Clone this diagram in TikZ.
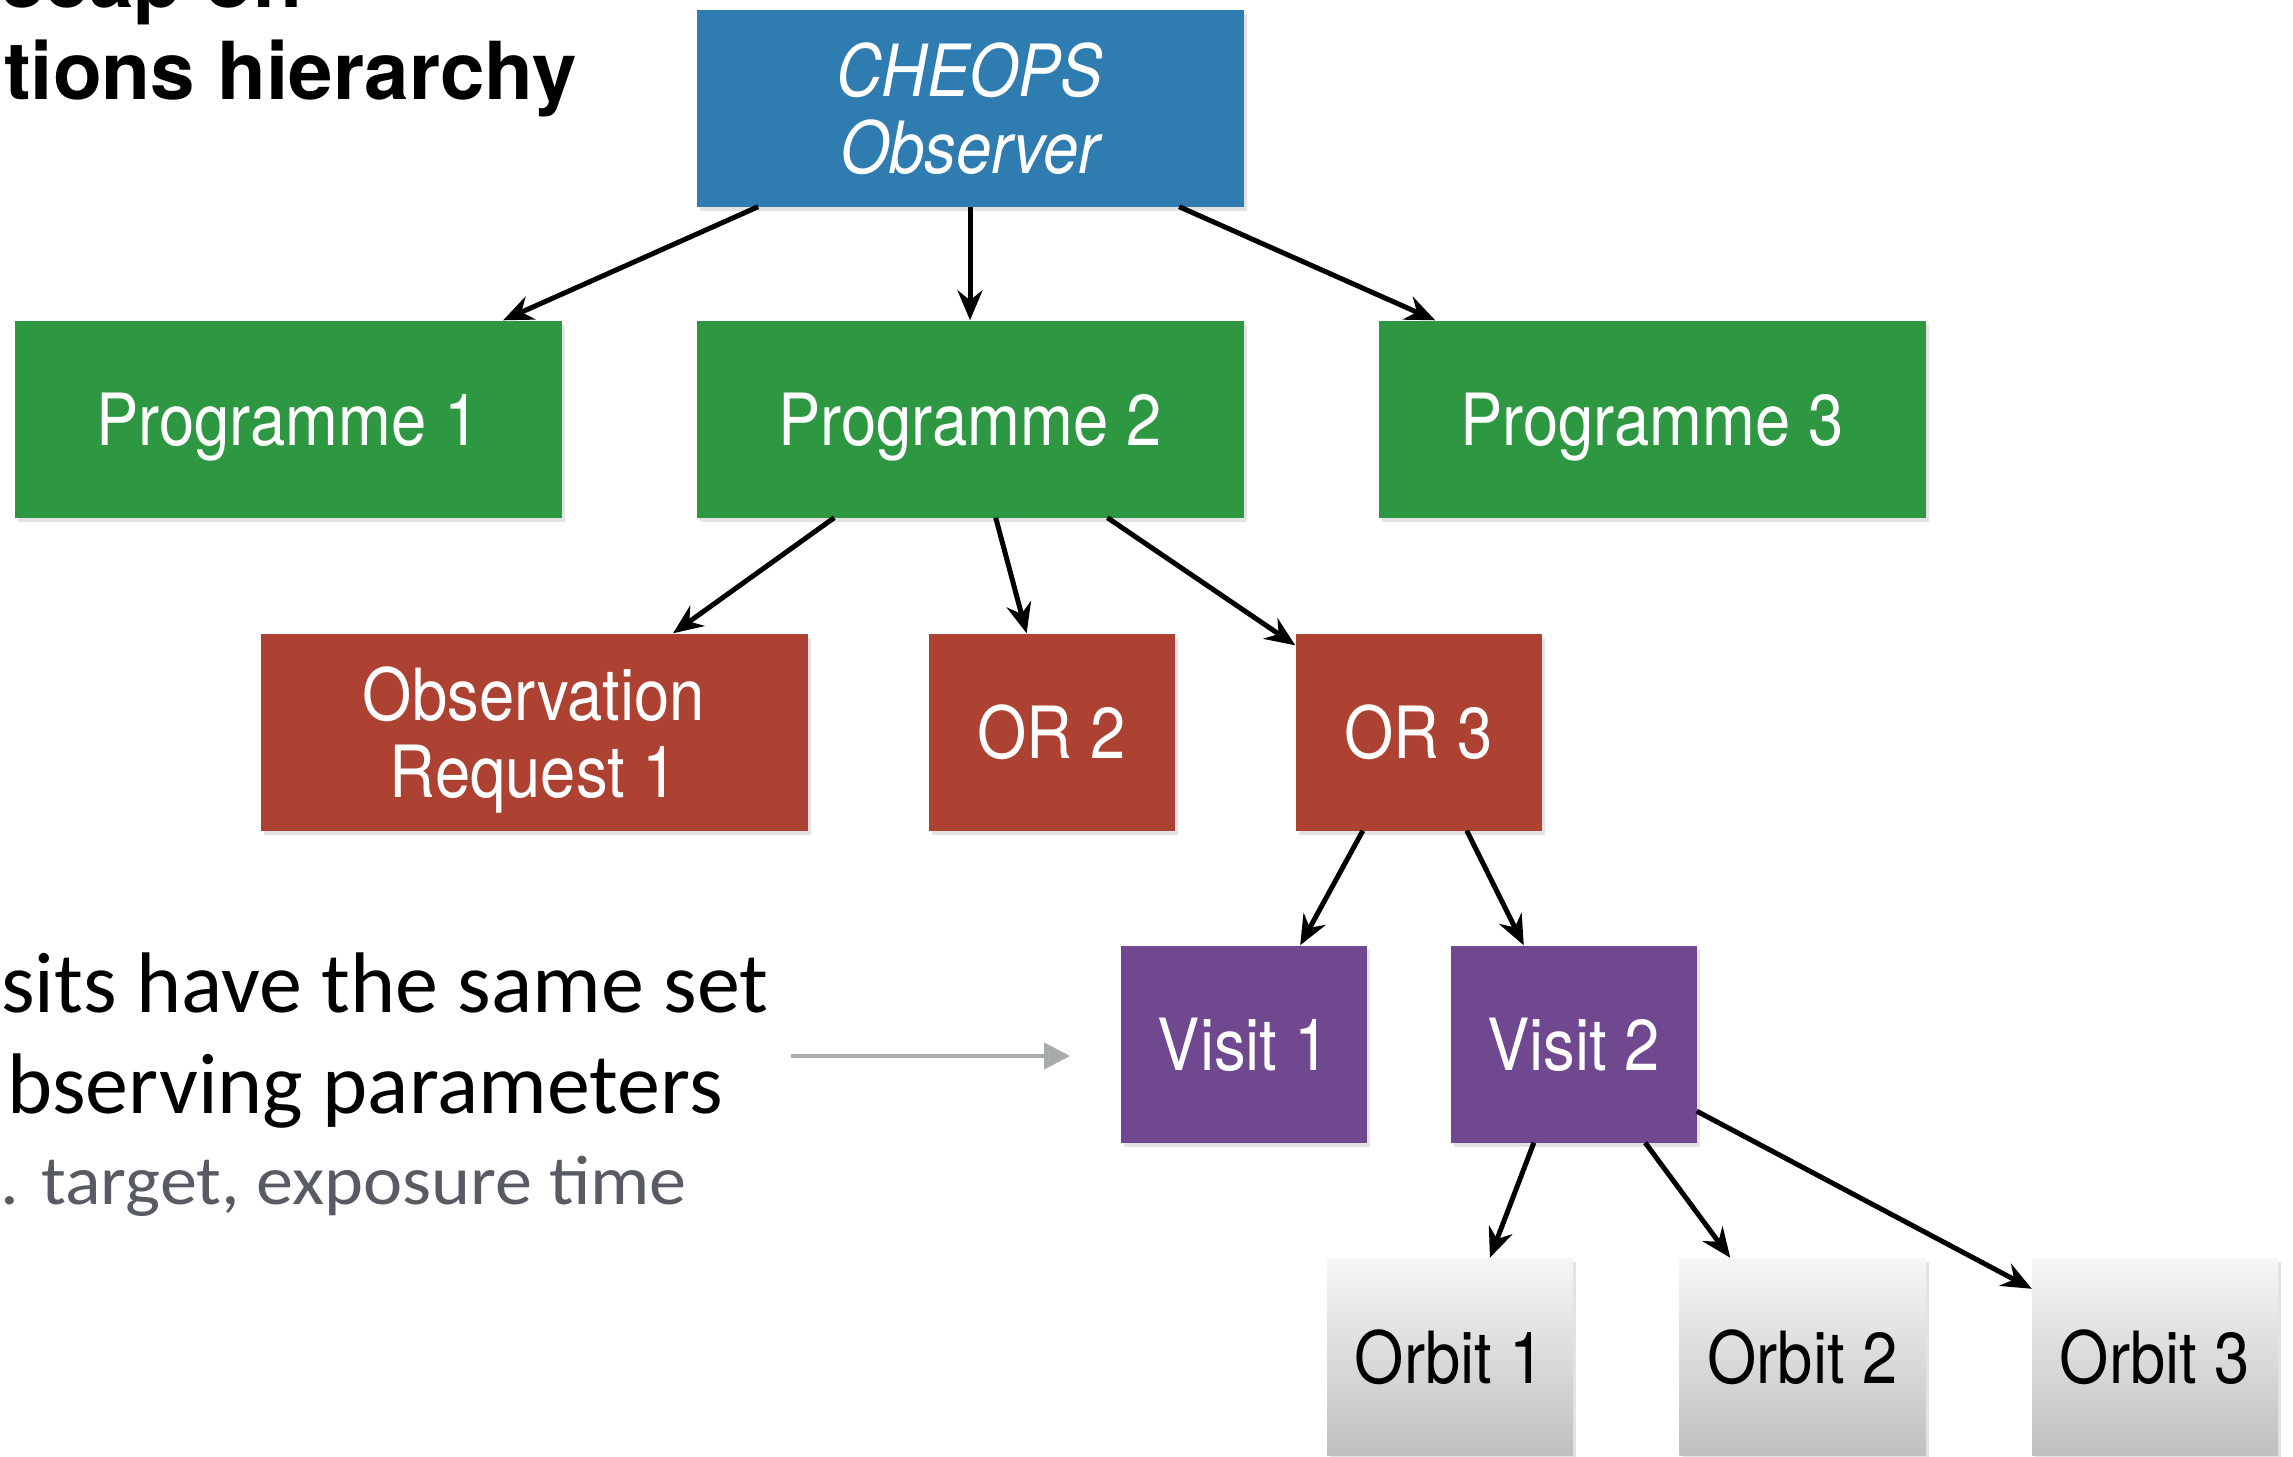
\documentclass[tikz,border=0pt]{standalone}
\usepackage{fontspec}
\setmainfont{TeX Gyre Heros}
\newfontfamily\boxfont[FakeStretch=0.88]{TeX Gyre Heros}
\newfontfamily\gillfont{Carlito}
\newfontfamily\gillwide[FakeStretch=1.06]{Carlito}
\usetikzlibrary{arrows.meta,calc,shadows}
\definecolor{cblue}{RGB}{47,124,176}
\definecolor{cgreen}{RGB}{46,151,66}
\definecolor{cred}{RGB}{174,66,50}
\definecolor{cpurple}{RGB}{112,72,144}
\definecolor{orbtop}{RGB}{246,246,246}
\definecolor{orbbot}{RGB}{192,192,192}
\definecolor{graytext}{RGB}{88,92,98}
\definecolor{grayarrow}{RGB}{168,171,171}
\tikzset{
  box/.style={rectangle, inner sep=0pt, text=white, align=center, text depth=0pt,
    font=\boxfont\fontsize{72}{77}\selectfont,
    drop shadow={shadow xshift=3pt, shadow yshift=-4pt, opacity=0.22}},
  widebox/.style={box, minimum width=547pt, minimum height=197pt},
  narrowbox/.style={box, minimum width=246pt, minimum height=197pt},
  orbitbox/.style={narrowbox, text=black, top color=orbtop, bottom color=orbbot},
  conn/.style={line width=5pt, -{Stealth[length=30pt,width=25pt,inset=10pt]}},
  graconn/.style={line width=4.5pt, grayarrow, -{Triangle[length=26pt,width=26pt]}},
  lefttext/.style={anchor=base west, inner sep=0pt},
}
\begin{document}
\begin{tikzpicture}[x=1pt,y=-1pt]
\useasboundingbox (0,0) rectangle (2293,1456);
\fill[white] (0,0) rectangle (2293,1456);
\clip (0,0) rectangle (2293,1456);

% title (cropped)
\node[lefttext, font=\bfseries\fontsize{80}{88}\selectfont] (t1) at (0,8) {ecap on};
\node[lefttext, font=\bfseries\fontsize{80}{88}\selectfont] (t2) at (4,99) {tions hierarchy};

% left text (cropped)
\node[lefttext, font=\gillfont\fontsize{86}{90}\selectfont] (l1) at (1,1012) {sits have the same set};
\node[lefttext, font=\gillfont\fontsize{86}{90}\selectfont] (l2) at (7,1113) {bserving parameters};
\node[lefttext, text=graytext, font=\gillwide\fontsize{70}{74}\selectfont] (l3) at (0,1204) {. target, exposure time};

% boxes
\node[widebox, fill=cblue, font=\boxfont\itshape\fontsize{72}{77}\selectfont] (cheops) at (970,108) {CHEOPS\\Observer};
\node[widebox, fill=cgreen] (p1) at (288,419) {Programme 1};
\node[widebox, fill=cgreen] (p2) at (970,419) {Programme 2};
\node[widebox, fill=cgreen] (p3) at (1652,419) {Programme 3};
\node[widebox, fill=cred] (or1) at (534,732) {Observation\\Request 1};
\node[narrowbox, fill=cred] (or2) at (1051.5,732) {OR 2};
\node[narrowbox, fill=cred] (or3) at (1418.5,732) {OR 3};
\node[narrowbox, fill=cpurple] (v1) at (1244,1044) {Visit 1};
\node[narrowbox, fill=cpurple] (v2) at (1573.5,1044) {Visit 2};
\node[orbitbox] (o1) at (1450,1356.5) {Orbit 1};
\node[orbitbox] (o2) at (1802.5,1356.5) {Orbit 2};
\node[orbitbox] (o3) at (2155,1356.5) {Orbit 3};

% connectors
\draw[conn] ($(cheops.south west)!0.113!(cheops.south east)$) -- ($(p1.north west)!0.893!(p1.north east)$);
\draw[conn] (cheops.south) -- (p2.north);
\draw[conn] ($(cheops.south west)!0.882!(cheops.south east)$) -- ($(p3.north west)!0.104!(p3.north east)$);
\draw[conn] ($(p2.south west)!0.252!(p2.south east)$) -- ($(or1.north west)!0.754!(or1.north east)$);
\draw[conn] ($(p2.south west)!0.547!(p2.south east)$) -- ($(or2.north west)!0.399!(or2.north east)$);
\draw[conn] ($(p2.south west)!0.751!(p2.south east)$) -- ($(or3.north west)+(0,12)$);
\draw[conn] ($(or3.south west)!0.274!(or3.south east)$) -- ($(v1.north west)!0.728!(v1.north east)$);
\draw[conn] ($(or3.south west)!0.696!(or3.south east)$) -- ($(v2.north west)!0.298!(v2.north east)$);
\draw[conn] ($(v2.south west)!0.339!(v2.south east)$) -- ($(o1.north west)!0.662!(o1.north east)$);
\draw[conn] ($(v2.south west)!0.791!(v2.south east)$) -- ($(o2.north west)!0.207!(o2.north east)$);
\draw[conn] ($(v2.north east)!0.84!(v2.south east)$) -- ($(o3.north west)+(0,31)$);

% gray pointer
\coordinate (g1) at (791,1056);
\coordinate (g2) at (1070,1056);
\draw[graconn] (g1) -- (g2);
\end{tikzpicture}
\end{document}
